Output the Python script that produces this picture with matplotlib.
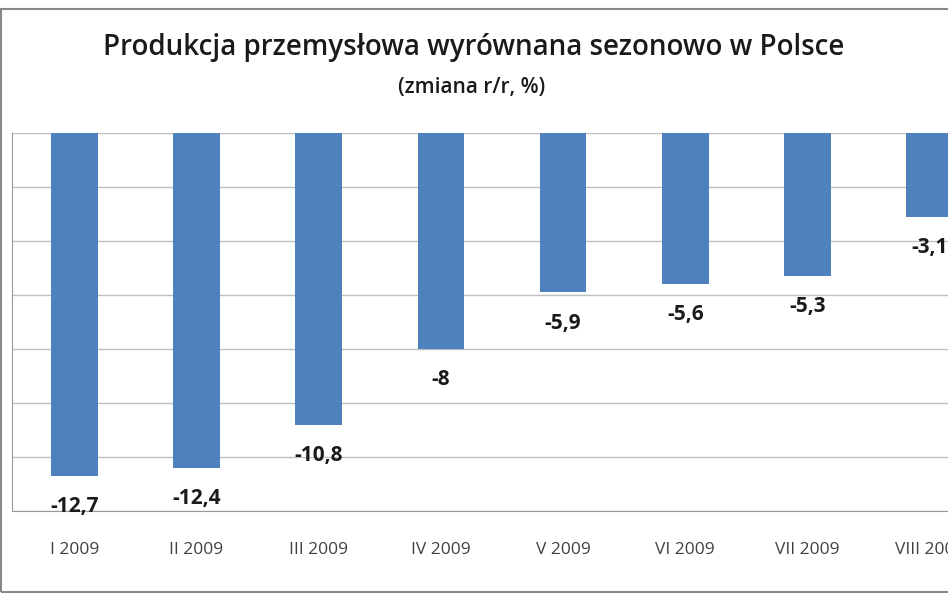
import matplotlib
matplotlib.use("Agg")
import matplotlib.pyplot as plt

categories = ["I 2009","II 2009","III 2009","IV 2009","V 2009","VI 2009","VII 2009","VIII 2009"]
values = [-12.7,-12.4,-10.8,-8,-5.9,-5.6,-5.3,-3.1]

W,H=948,593
fig=plt.figure(figsize=(W/100,H/100),dpi=100)
plt.rcParams['font.family']=['Open Sans','DejaVu Sans']
ax=fig.add_axes([12/W,1-511/H,1-12/W,(511-133)/H])
x=list(range(len(categories)))
ax.bar(x,values,width=0.38,color="#4F81BD",zorder=3)
ax.set_xlim(-0.51,7.15)
ax.set_ylim(-14,0)
ax.set_yticks(range(-14,1,2))
ax.set_yticklabels([])
ax.tick_params(axis='y',length=0)
ax.grid(axis='y',color="#BFBFBF",lw=1,zorder=0)
ax.set_xticks(x)
ax.set_xticklabels(categories,fontsize=12.5,color="#404040")
ax.tick_params(axis='x',length=0,pad=22)
for s in ['top','right']: ax.spines[s].set_visible(False)
ax.spines['left'].set_color("#999999")
ax.spines['bottom'].set_color("#999999")
for xi,v in zip(x,values):
    lbl=("%g"%v).replace('.',',')
    ax.text(xi,v-0.75,lbl,ha='center',va='top',fontsize=15,fontweight='bold',color='#1a1a1a',clip_on=False)
fig.text(0.4995,1-47/H,"Produkcja przemysłowa wyrównana sezonowo w Polsce",ha='center',va='center',fontsize=20,fontweight='semibold',color='#1a1a1a')
fig.text(0.498,1-87/H,"(zmiana r/r, %)",ha='center',va='center',fontsize=15,fontweight='semibold',color='#1a1a1a')
fig.add_artist(plt.Rectangle((1/W,1/H),1.2,1-10/H,transform=fig.transFigure,fill=False,ec="#888888",lw=1.5))
fig.savefig("out.png",dpi=100)
